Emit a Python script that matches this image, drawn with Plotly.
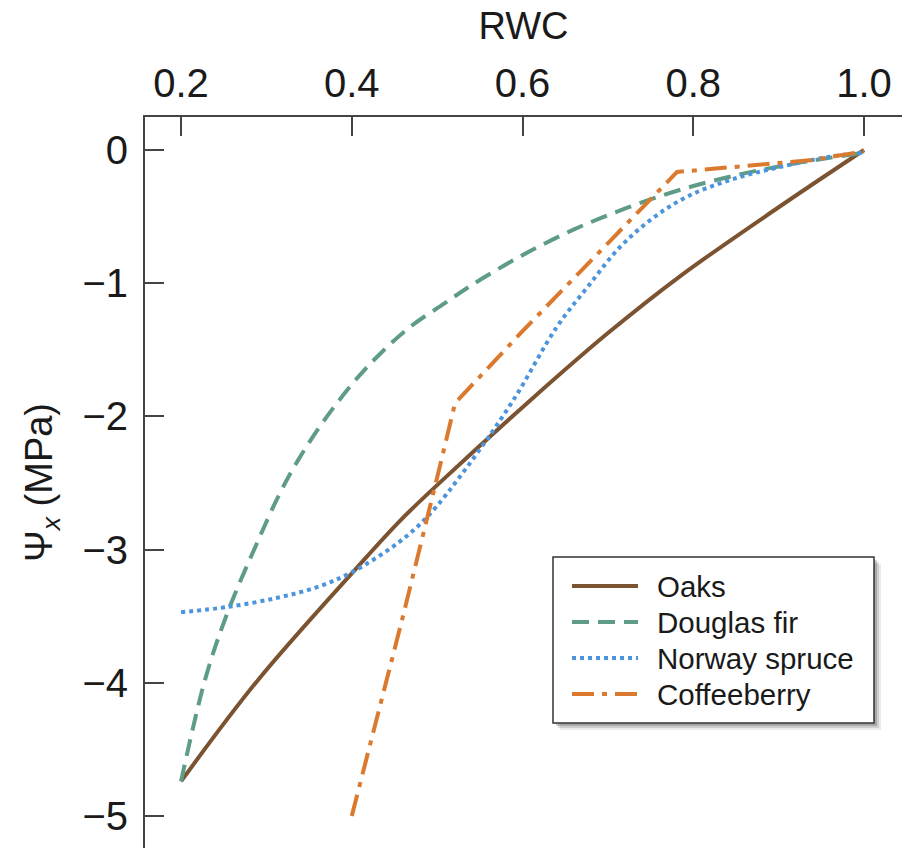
import plotly.graph_objects as go

# ---- data ----
oaks_x = [0.2, 0.29, 0.404, 0.457, 0.506, 0.609, 0.699, 0.784, 0.9, 1.0]
oaks_y = [-4.74, -3.98, -3.15, -2.78, -2.48, -1.88, -1.38, -0.95, -0.43, 0.0]

fir_x = [0.2, 0.228, 0.254, 0.287, 0.314, 0.337, 0.371, 0.415, 0.466, 0.509,
         0.539, 0.597, 0.659, 0.722, 0.784, 0.85, 0.92, 1.0]
fir_y = [-4.74, -3.98, -3.48, -2.98, -2.60, -2.33, -2.0, -1.65, -1.34, -1.15,
         -1.02, -0.80, -0.60, -0.435, -0.30, -0.19, -0.10, -0.02]

spruce_x = [0.2, 0.255, 0.314, 0.36, 0.40, 0.454, 0.489, 0.535, 0.589, 0.64,
            0.676, 0.714, 0.753, 0.793, 0.843, 0.90, 0.96, 1.0]
spruce_y = [-3.47, -3.43, -3.36, -3.28, -3.17, -2.95, -2.75, -2.38, -1.88, -1.33,
            -1.03, -0.73, -0.51, -0.35, -0.225, -0.13, -0.05, -0.02]

coffee_x = [0.4, 0.46, 0.503, 0.521, 0.6, 0.699, 0.769, 0.781, 0.94, 1.0]
coffee_y = [-5.0, -3.5, -2.38, -1.90, -1.36, -0.71, -0.24, -0.165, -0.075, -0.01]

series_names = ["Oaks", "Douglas fir", "Norway spruce", "Coffeeberry"]

x_ticks = [0.2, 0.4, 0.6, 0.8, 1.0]
x_tick_labels = ["0.2", "0.4", "0.6", "0.8", "1.0"]
y_ticks = [0, -1, -2, -3, -4, -5]
y_tick_labels = ["0", "\u22121", "\u22122", "\u22123", "\u22124", "\u22125"]

FONT = "Liberation Sans, Arial, sans-serif"
W, H = 902, 848
ML, MT = 145, 117

colors = ["#7B5330", "#5E9C88", "#4C94DB", "#DB7A2E"]
dashes = ["solid", "17px,9px", "4px,4px", "22px,8px,5px,8px"]
shapes_ = ["spline", "spline", "spline", "linear"]
data = [(oaks_x, oaks_y), (fir_x, fir_y), (spruce_x, spruce_y), (coffee_x, coffee_y)]

fig = go.Figure()
for (xs, ys), name, c, d, s in zip(data, series_names, colors, dashes, shapes_):
    line = dict(color=c, width=4, dash=d, shape=s)
    if s == "spline":
        line["smoothing"] = 1.0
    fig.add_trace(go.Scatter(x=xs, y=ys, name=name, mode="lines", line=line, showlegend=False))


def px2paper(px, py):
    return (px - ML) / (W - ML), (H - py) / (H - MT)


# custom legend box with soft shadow
shapes = []
for off, op in [(7, 0.08), (5, 0.12), (3, 0.18)]:
    x0, y1 = px2paper(553 + off, 557 + off)
    x1, y0 = px2paper(874 + off, 723 + off)
    shapes.append(dict(type="rect", xref="paper", yref="paper", x0=x0, x1=x1, y0=y0, y1=y1,
                       line=dict(width=0), fillcolor=f"rgba(0,0,0,{op})", layer="above"))
x0, y1 = px2paper(553, 557)
x1, y0 = px2paper(874, 723)
shapes.append(dict(type="rect", xref="paper", yref="paper", x0=x0, x1=x1, y0=y0, y1=y1,
                   line=dict(width=1.5, color="#333333"), fillcolor="white", layer="above"))

annotations = []
row_y = [586, 622, 658, 694]
for name, c, d, ry in zip(series_names, colors, dashes, row_y):
    lx0, ly = px2paper(572, ry)
    lx1, _ = px2paper(638, ry)
    shapes.append(dict(type="line", xref="paper", yref="paper", x0=lx0, x1=lx1, y0=ly, y1=ly,
                       line=dict(color=c, width=4, dash=d), layer="above"))
    tx, _ = px2paper(655, ry)
    annotations.append(dict(text=name, xref="paper", yref="paper", x=tx, y=ly,
                            xanchor="left", yanchor="middle", showarrow=False,
                            font=dict(family=FONT, size=29.5, color="#1a1a1a")))

fig.update_layout(
    width=W, height=H,
    margin=dict(l=ML, r=0, t=MT, b=0),
    paper_bgcolor="white", plot_bgcolor="white",
    font=dict(family=FONT, size=38, color="#1a1a1a"),
    showlegend=False,
    shapes=shapes, annotations=annotations,
    xaxis=dict(side="top", range=[0.1578, 1.0445], tickvals=x_ticks, ticktext=x_tick_labels,
               ticks="inside", ticklen=19, tickwidth=2, tickcolor="#444444",
               showline=True, linecolor="#444444", linewidth=2, mirror=False,
               showgrid=False, zeroline=False, ticklabelstandoff=2, automargin=False,
               title=dict(text="RWC", font=dict(size=38), standoff=10),
               tickfont=dict(size=40)),
    yaxis=dict(range=[-5.24, 0.2477], tickvals=y_ticks, ticktext=y_tick_labels,
               ticks="inside", ticklen=19, tickwidth=2, tickcolor="#444444",
               showline=True, linecolor="#444444", linewidth=2,
               showgrid=False, zeroline=False, ticklabelstandoff=7, automargin=False,
               title=dict(text="\u03a8<sub><i>x</i></sub> (MPa)", font=dict(size=38), standoff=18),
               tickfont=dict(size=40)),
)

fig.write_html("out.html", config={"displayModeBar": False},
               post_script="document.body.style.margin='0';document.body.style.padding='0';")
